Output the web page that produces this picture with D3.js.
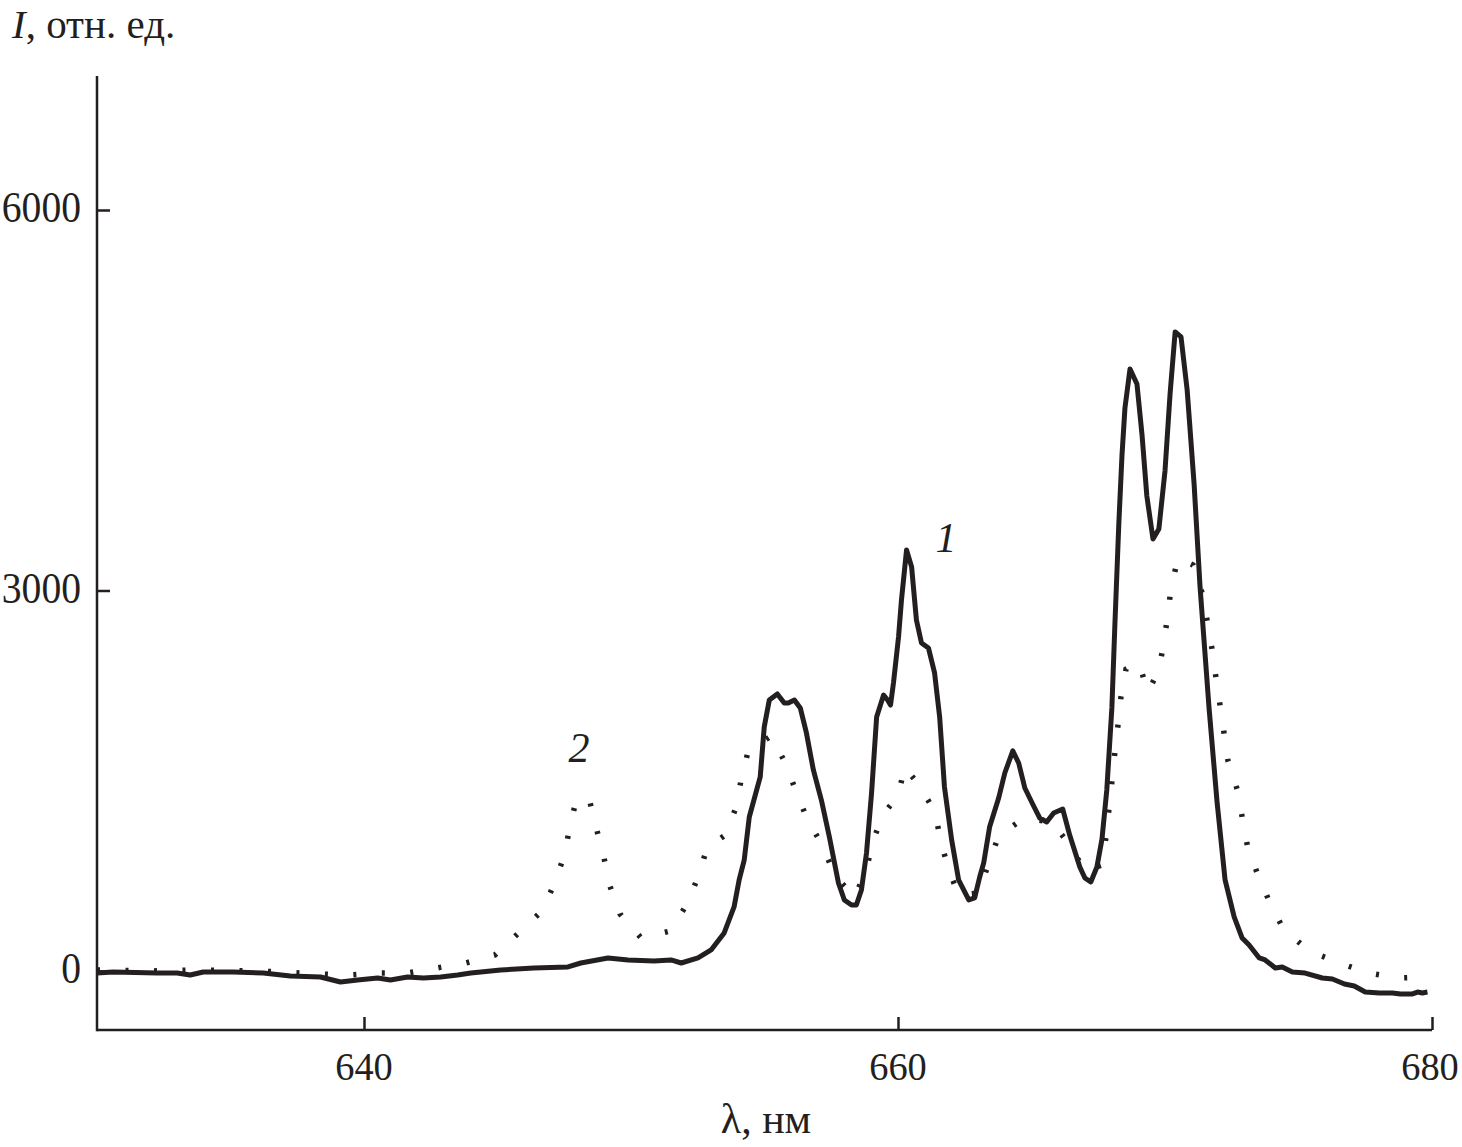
<!DOCTYPE html>
<html>
<head>
<meta charset="utf-8">
<script src="https://cdn.jsdelivr.net/npm/d3@7"></script>
<style>
  html, body { margin: 0; padding: 0; background: #fff; }
  svg text { font-family: "Liberation Serif", "DejaVu Serif", serif; fill: #231f20; }
</style>
</head>
<body>
<svg id="chart" width="1462" height="1147"></svg>
<script>
// ---- data ----
const xTicks = [640, 660, 680];
const yTicks = [0, 3000, 6000];

// curve 1 (solid)
const wl1 = [630.00,630.60,632.25,633.00,633.49,633.98,635.10,636.23,637.24,638.37,639.12,639.76,640.51,640.99,641.63,642.23,642.87,643.51,644.00,645.12,646.36,647.64,648.12,649.14,649.89,650.86,651.50,651.88,652.51,653.00,653.49,653.86,654.05,654.24,654.43,654.84,654.99,655.18,655.48,655.74,655.89,656.12,656.34,656.57,656.83,657.13,657.43,657.77,657.99,658.26,658.44,658.63,658.82,659.01,659.20,659.46,659.61,659.72,659.83,660.02,660.13,660.32,660.51,660.69,660.88,661.14,661.37,661.56,661.74,662.01,662.27,662.65,662.87,663.06,663.21,663.43,663.77,664.00,664.30,664.52,664.75,665.08,665.31,665.57,665.83,666.17,666.43,666.81,667.00,667.22,667.45,667.64,667.82,668.01,668.12,668.27,668.39,668.50,668.69,668.95,669.14,669.32,669.55,669.77,670.00,670.19,670.38,670.60,670.83,671.09,671.31,671.65,671.95,672.25,672.59,672.89,673.15,673.53,673.75,674.13,674.39,674.77,675.25,675.89,676.27,676.72,677.09,677.50,678.03,678.52,678.82,679.27,679.46,679.64,679.83];
const int1 = [-16,-8,-16,-16,-32,-8,-8,-16,-39,-47,-87,-71,-55,-71,-47,-55,-47,-32,-16,8,24,32,63,103,87,79,87,63,103,166,300,505,718,875,1214,1530,1924,2137,2184,2113,2113,2137,2074,1877,1585,1348,1057,694,560,520,520,639,930,1404,2003,2176,2137,2097,2271,2634,2925,3320,3186,2768,2586,2547,2350,2003,1451,1033,718,560,576,741,852,1135,1364,1561,1735,1640,1443,1301,1206,1175,1246,1277,1072,820,733,702,820,1041,1427,2074,2712,3525,4069,4439,4747,4628,4226,3745,3406,3485,3943,4550,5039,4999,4581,3840,3036,2074,1333,718,426,260,205,103,87,24,32,-8,-16,-55,-63,-103,-118,-166,-173,-173,-181,-181,-166,-173,-166];

// curve 2 (dotted)
const wl2 = [630.00,631.99,633.86,636.12,638.37,639.42,640.51,641.63,642.72,643.81,644.90,645.87,646.70,647.15,647.52,647.71,647.97,648.46,648.72,648.99,649.21,649.59,650.38,651.46,652.10,652.51,652.85,653.53,653.94,654.13,654.39,655.25,655.78,656.19,656.60,657.20,657.62,658.37,658.82,659.04,659.46,660.02,660.24,660.73,661.37,661.59,661.86,662.27,663.02,663.40,663.77,664.71,665.76,666.43,667.00,667.64,667.79,667.90,668.01,668.12,668.24,668.35,668.54,669.02,669.36,669.77,669.96,670.11,670.23,670.49,671.05,671.39,671.58,671.76,671.91,672.06,672.21,672.36,672.70,672.89,673.08,673.45,673.90,674.43,675.40,676.53,677.62,678.71,679.76];
const int2 = [8,0,8,0,-24,-32,-16,-16,24,63,126,315,481,702,923,1143,1364,1333,1112,891,670,449,260,315,528,741,970,1072,1293,1514,1735,1853,1640,1411,1199,978,757,583,796,1017,1238,1388,1609,1482,1262,1041,820,599,615,852,1064,1206,1175,994,789,836,1057,1277,1490,1719,1940,2160,2381,2429,2200,2373,2594,2815,3028,3257,3201,2981,2760,2539,2310,2097,1877,1656,1435,1214,994,773,552,331,158,63,-16,-55,-47];

// ---- layout ----
const svg = d3.select("#chart");
const ink = "#231f20";
const x = d3.scaleLinear().domain([630, 680]).range([97, 1432]);
const y = d3.scaleLinear().domain([0, 6000]).range([971, 210]);
const yTop = 76, yBottom = 1030;

svg.append("rect").attr("width", 1462).attr("height", 1147).attr("fill", "#fff");

// axes
const gx = svg.append("g").attr("transform", `translate(0,${yBottom})`)
  .call(d3.axisTop(x).tickValues(xTicks).tickSize(13).tickFormat(""));
gx.select(".domain").attr("d", `M97,0H1432`).attr("stroke", ink).attr("stroke-width", 2.5);
gx.selectAll(".tick line").attr("stroke", ink).attr("stroke-width", 2.5);

const gy = svg.append("g").attr("transform", `translate(97,0)`)
  .call(d3.axisRight(y).tickValues(yTicks).tickSize(13).tickFormat(""));
gy.select(".domain").attr("d", `M0,${yTop}V${yBottom + 1.25}`).attr("stroke", ink).attr("stroke-width", 2.5);
gy.selectAll(".tick line").attr("stroke", ink).attr("stroke-width", 2.5);

// tick labels
svg.append("g").selectAll("text").data(xTicks).join("text")
  .attr("x", d => Math.min(x(d), 1430)).attr("y", 1080)
  .attr("text-anchor", "middle")
  .attr("font-size", 40)
  .attr("textLength", d => String(d).length * 19.2)
  .attr("lengthAdjust", "spacingAndGlyphs")
  .text(d => d);

svg.append("g").selectAll("text").data(yTicks).join("text")
  .attr("x", d => 81 - String(d).length * 19.8).attr("y", d => y(d) + 12)
  .attr("font-size", 44)
  .attr("textLength", d => String(d).length * 19.8)
  .attr("lengthAdjust", "spacingAndGlyphs")
  .text(d => d);

// axis titles
svg.append("text").attr("x", 766).attr("y", 1133).attr("text-anchor", "middle")
  .attr("font-size", 42).text("λ, нм");

const yt = svg.append("text").attr("x", 12).attr("y", 38).attr("font-size", 41);
yt.append("tspan").attr("font-style", "italic").text("I");
yt.append("tspan").text(", отн. ед.");

// curves
const line = d3.line().x(d => x(d[0])).y(d => y(d[1]));
const s1 = wl1.map((w, i) => [w, int1[i]]);
const s2 = wl2.map((w, i) => [w, int2[i]]);

svg.append("path").datum(s2).attr("d", line)
  .attr("fill", "none").attr("stroke", ink)
  .attr("stroke-width", 5.5).attr("stroke-dasharray", "3 25.5");

svg.append("path").datum(s1).attr("d", line)
  .attr("fill", "none").attr("stroke", ink)
  .attr("stroke-width", 5).attr("stroke-linejoin", "round");

// curve labels
svg.append("text").attr("x", 946).attr("y", 552).attr("text-anchor", "middle")
  .attr("font-size", 42).attr("font-style", "italic").text("1");
svg.append("text").attr("x", 579).attr("y", 762).attr("text-anchor", "middle")
  .attr("font-size", 42).attr("font-style", "italic").text("2");
</script>
</body>
</html>
